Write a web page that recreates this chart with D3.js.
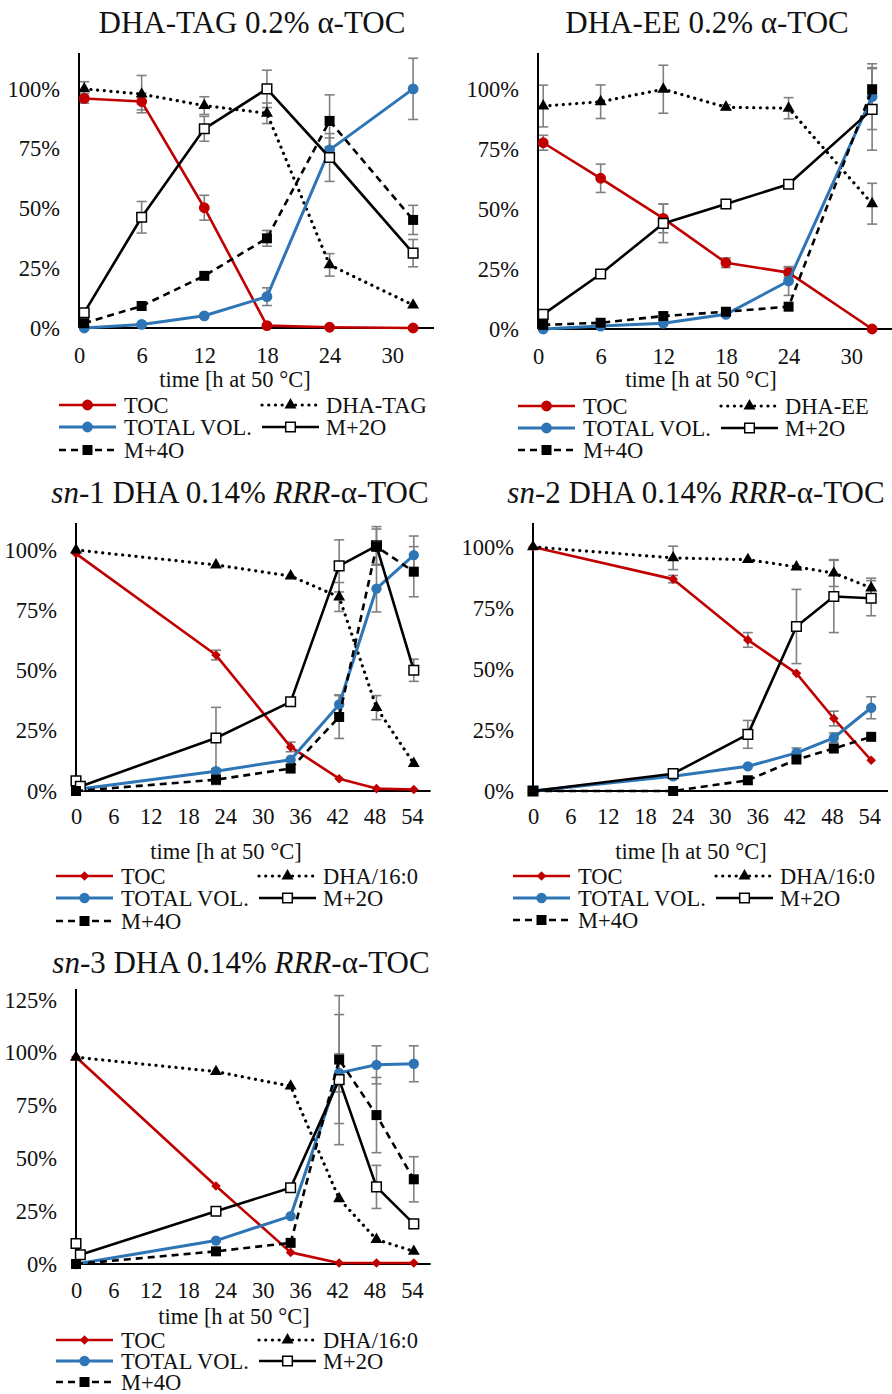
<!DOCTYPE html>
<html>
<head>
<meta charset="utf-8">
<script src="https://cdn.jsdelivr.net/npm/d3@7/dist/d3.min.js"></script>
<style>
  html, body { margin: 0; padding: 0; background: #fff; }
  svg { display: block; }
  text { font-family: "Liberation Serif", "Times New Roman", serif; fill: #111; }
</style>
</head>
<body>
<svg id="chart" width="892" height="1394"></svg>
<script>
// ---- data (% of max) ----
var tagTime = [0.5, 6, 12, 18, 24, 32]
  , tagToc = [96, 94.7, 50.3, 1, 0.3, 0]
  , tagTocErr = [2, 3.5, 5.2, 0, 0, 0]
  , tagDha = [100, 97.8, 93, 89.8, 26.4, 9.6]
  , tagDhaErr = [3, 7.8, 3.7, 4.3, 4.7, 0]
  , tagVol = [0, 1.5, 5.1, 13.1, 74.5, 100]
  , tagVolErr = [0, 0, 0, 3.7, 5, 12.8]
  , tagM2o = [6.4, 46.3, 83.3, 100, 71.3, 31.3]
  , tagM2oErr = [0, 6.6, 5.2, 7.8, 10, 5.7]
  , tagM4o = [2, 9.2, 21.8, 37.5, 86.6, 45.2]
  , tagM4oErr = [0, 0, 0, 3.3, 10.9, 6.1];

var eeTime = [0.5, 6, 12, 18, 24, 32]
  , eeToc = [77.6, 62.8, 46.1, 27.6, 23.5, 0]
  , eeTocErr = [3.1, 5.9, 6, 2, 2, 0]
  , eeDha = [92.9, 94.7, 99.9, 92.4, 92, 52.2]
  , eeDhaErr = [8.7, 7, 10, 1, 4.4, 8.5]
  , eeVol = [0, 1.2, 2.4, 6.1, 20, 96.8]
  , eeVolErr = [0, 0, 0, 0, 6, 13.7]
  , eeM2o = [6.1, 22.9, 44, 52.1, 60.3, 91.5]
  , eeM2oErr = [0, 0, 8, 0, 0, 17]
  , eeM4o = [1.7, 2.6, 5.4, 7.2, 9.3, 99.9]
  , eeM4oErr = [0, 0, 0, 0, 0, 9];

var snTime = [0, 22.5, 34.5, 42.3, 48.3, 54.3]
  , snM2oTime = [0, 0.7, 22.5, 34.5, 42.3, 48.3, 54.3];

var sn1Toc = [98.5, 56.4, 18.3, 5.1, 1, 0.6]
  , sn1TocErr = [0, 2, 2, 0, 0, 0]
  , sn1Dha = [100, 93.8, 89.2, 80.5, 34.6, 11.4]
  , sn1DhaErr = [0, 0, 0, 6, 5, 0]
  , sn1Vol = [0.6, 8.2, 13, 35.9, 84, 97.9]
  , sn1VolErr = [0, 0, 0, 4, 9.7, 7.9]
  , sn1M2o = [4.2, 1.9, 22, 37, 93.4, 101.7, 50.1]
  , sn1M2oErr = [0, 0, 12.7, 0, 10.8, 8, 4.6]
  , sn1M4o = [0, 4.7, 9.3, 30.7, 101.4, 91]
  , sn1M4oErr = [0, 2, 0, 8.9, 7.3, 10.4];

var sn2Toc = [100, 86.8, 61.9, 48.2, 29.7, 12.6]
  , sn2TocErr = [0, 1.5, 3, 0, 3, 0]
  , sn2Dha = [100, 95.5, 94.8, 91.8, 89.3, 83.2]
  , sn2DhaErr = [0, 4.8, 0, 0, 5.5, 4]
  , sn2Vol = [0, 6, 10.1, 15.6, 21.8, 34.1]
  , sn2VolErr = [0, 0, 0, 2, 2, 4.5]
  , sn2M2o = [0, 7.1, 23.2, 67.4, 79.7, 79]
  , sn2M2oErr = [0, 0, 5.7, 15.2, 14.8, 7.2]
  , sn2M4o = [0, 0, 4.4, 12.9, 17.4, 22.2]
  , sn2M4oErr = [0, 0, 0, 0, 0, 0];

var sn3Toc = [98, 36.9, 5.5, 0.5, 0.5, 0.5]
  , sn3TocErr = [0, 0, 0, 0, 0, 0]
  , sn3Dha = [97.9, 91.1, 84.2, 30.9, 11.6, 6]
  , sn3DhaErr = [0, 0, 0, 0, 0, 0]
  , sn3Vol = [0, 11.1, 22.7, 90.5, 94.3, 94.8]
  , sn3VolErr = [0, 0, 0, 9, 9, 8.5]
  , sn3M2o = [9.7, 4.4, 25, 36.1, 87.3, 36.5, 19]
  , sn3M2oErr = [0, 0, 0, 0, 30.8, 10.2, 0]
  , sn3M4o = [0, 6, 10, 96.8, 70.5, 40.1]
  , sn3M4oErr = [0, 0, 0, 30.3, 17.8, 10.7];

var hourTicks32 = [0, 6, 12, 18, 24, 30]
  , hourTicks54 = [0, 6, 12, 18, 24, 30, 36, 42, 48, 54]
  , pctTicks100 = [0, 25, 50, 75, 100]
  , pctTicks125 = [0, 25, 50, 75, 100, 125];

var xLabel = 'time [h at 50 °C]';
var legendNames = { toc: 'TOC', vol: 'TOTAL VOL.', m2o: 'M+2O', m4o: 'M+4O' };

// ---- styles ----
var RED = '#C00000', BLUE = '#2E75B6', ERR = '#808080', FS = '22.5px';
var styles = {
  toc: { color: RED, width: 2.6 },
  dha: { color: '#000', width: 3.2, dash: '0.1,6.6', cap: 'round' },
  vol: { color: BLUE, width: 3 },
  m2o: { color: '#000', width: 2.6 },
  m4o: { color: '#000', width: 2.6, dash: '7,5' }
};

var svg = d3.select('#chart');

var mk = function (key, tocShape) {
  // marker path + fill/stroke for a series
  if (key === 'toc') {
    if (tocShape === 'diamond') return { d: d3.symbol(d3.symbolSquare, 46)(), rot: 45, fill: RED, stroke: 'none' };
    return { d: d3.symbol(d3.symbolCircle, 92)(), fill: RED, stroke: 'none' };
  }
  if (key === 'vol') return { d: d3.symbol(d3.symbolCircle, tocShape === 'diamond' ? 84 : 92)(), fill: BLUE, stroke: 'none' };
  if (key === 'dha') return { d: d3.symbol(d3.symbolTriangle, 62)(), fill: '#000', stroke: 'none' };
  if (key === 'm2o') return { d: d3.symbol(d3.symbolSquare, 92)(), fill: '#fff', stroke: '#000' };
  return { d: d3.symbol(d3.symbolSquare, 100)(), fill: '#000', stroke: 'none' };
};

var drawPanel = function (p) {
  var g = svg.append('g');
  var x = d3.scaleLinear().domain([0, p.xMax]).range([p.left, p.right]);
  var y = d3.scaleLinear().domain([0, p.yMax]).range([p.yZero, p.yTop]);

  // title
  var title = g.append('text')
    .attr('x', p.titleX).attr('y', p.titleY)
    .attr('text-anchor', 'middle')
    .style('font-size', '31px');
  p.title.forEach(function (part) {
    title.append('tspan').text(part[0]).style('font-style', part[1] ? 'italic' : 'normal');
  });

  // axes (labels only; lines drawn by hand)
  var yAxis = d3.axisLeft(y).tickValues(p.yTicks).tickSize(0).tickPadding(19)
    .tickFormat(function (d) { return d + '%'; });
  g.append('g').attr('transform', 'translate(' + p.left + ',0)').call(yAxis)
    .call(function (a) { a.select('.domain').remove(); })
    .selectAll('text').attr('font-family', null).attr('font-size', null)
    .style('font-size', FS).attr('fill', '#111');

  var xAxis = d3.axisBottom(x).tickValues(p.xTicks).tickSize(0).tickPadding(p.xPad);
  g.append('g').attr('transform', 'translate(0,' + p.yZero + ')').call(xAxis)
    .call(function (a) { a.select('.domain').remove(); })
    .selectAll('text').attr('font-family', null).attr('font-size', null)
    .style('font-size', FS).attr('fill', '#111');

  g.append('text').attr('x', p.xLabelX).attr('y', p.xLabelY)
    .attr('text-anchor', 'middle').style('font-size', FS).text(xLabel);

  // error bars
  var eb = g.append('g').attr('stroke', ERR).attr('stroke-width', 1.6);
  p.series.forEach(function (s) {
    s.v.forEach(function (v, i) {
      var e = s.e[i];
      if (!e) return;
      var cx = x(s.t[i]), y1 = y(v - e), y2 = y(v + e);
      eb.append('line').attr('x1', cx).attr('x2', cx).attr('y1', y1).attr('y2', y2);
      eb.append('line').attr('x1', cx - 5).attr('x2', cx + 5).attr('y1', y1).attr('y2', y1);
      eb.append('line').attr('x1', cx - 5).attr('x2', cx + 5).attr('y1', y2).attr('y2', y2);
    });
  });

  // axis lines
  g.append('line').attr('x1', p.left).attr('x2', p.left).attr('y1', p.yZero).attr('y2', p.yTop)
    .attr('stroke', '#000').attr('stroke-width', 2);
  g.append('line').attr('x1', p.left).attr('x2', p.right).attr('y1', p.yZero).attr('y2', p.yZero)
    .attr('stroke', '#000').attr('stroke-width', 2);

  var line = d3.line().x(function (d) { return x(d[0]); }).y(function (d) { return y(d[1]); });

  p.series.forEach(function (s) {
    var st = styles[s.key];
    var pts = s.v.map(function (v, i) { return [s.t[i], v]; });
    g.append('path').datum(pts).attr('d', line)
      .attr('fill', 'none').attr('stroke', st.color).attr('stroke-width', st.width)
      .attr('stroke-dasharray', st.dash || null)
      .attr('stroke-linecap', st.cap || 'butt').attr('stroke-linejoin', 'round');
    var m = mk(s.key, p.tocShape);
    g.selectAll(null).data(pts).enter().append('path')
      .attr('d', m.d)
      .attr('transform', function (d) {
        return 'translate(' + x(d[0]) + ',' + y(d[1]) + ')' + (m.rot ? ' rotate(' + m.rot + ')' : '');
      })
      .attr('fill', m.fill).attr('stroke', m.stroke).attr('stroke-width', 1.5);
  });

  // legend
  var cols = [
    { x1: p.left - 20, x2: p.left + 37, tx: p.left + 45 },
    { x1: p.left + 183, x2: p.left + 240, tx: p.left + 247 }
  ];
  var items = [
    { key: 'toc', row: 0, col: 0, name: legendNames.toc },
    { key: 'dha', row: 0, col: 1, name: p.dhaLabel },
    { key: 'vol', row: 1, col: 0, name: legendNames.vol },
    { key: 'm2o', row: 1, col: 1, name: legendNames.m2o },
    { key: 'm4o', row: 2, col: 0, name: legendNames.m4o }
  ];
  items.forEach(function (it) {
    var c = cols[it.col], ly = p.legendY[it.row], st = styles[it.key], m = mk(it.key, p.tocShape);
    g.append('line').attr('x1', c.x1).attr('x2', c.x2).attr('y1', ly).attr('y2', ly)
      .attr('stroke', st.color).attr('stroke-width', st.width)
      .attr('stroke-dasharray', st.dash || null).attr('stroke-linecap', st.cap || 'butt');
    g.append('path').attr('d', m.d)
      .attr('transform', 'translate(' + ((c.x1 + c.x2) / 2) + ',' + ly + ')' + (m.rot ? ' rotate(' + m.rot + ')' : ''))
      .attr('fill', m.fill).attr('stroke', m.stroke).attr('stroke-width', 1.5);
    g.append('text').attr('x', c.tx).attr('y', ly + 7.5).style('font-size', FS).text(it.name);
  });
};

var sers = function (t, t2, a) {
  return [
    { key: 'toc', t: t, v: a[0], e: a[1] },
    { key: 'dha', t: t, v: a[2], e: a[3] },
    { key: 'vol', t: t, v: a[4], e: a[5] },
    { key: 'm2o', t: t2, v: a[6], e: a[7] },
    { key: 'm4o', t: t, v: a[8], e: a[9] }
  ];
};

var panels = [
  { title: [['DHA-TAG 0.2% α-TOC', false]], titleX: 252, titleY: 33,
    left: 79, right: 434, xMax: 34, yZero: 328, yTop: 53, yMax: 115, xPad: 19,
    xTicks: hourTicks32, yTicks: pctTicks100, xLabelX: 235, xLabelY: 387,
    legendY: [405, 427, 450], dhaLabel: 'DHA-TAG', tocShape: 'circle',
    series: sers(tagTime, tagTime, [tagToc, tagTocErr, tagDha, tagDhaErr, tagVol, tagVolErr, tagM2o, tagM2oErr, tagM4o, tagM4oErr]) },
  { title: [['DHA-EE 0.2% α-TOC', false]], titleX: 707, titleY: 33,
    left: 538, right: 893, xMax: 34, yZero: 329, yTop: 53, yMax: 115, xPad: 19,
    xTicks: hourTicks32, yTicks: pctTicks100, xLabelX: 701, xLabelY: 387,
    legendY: [406, 428, 450], dhaLabel: 'DHA-EE', tocShape: 'circle',
    series: sers(eeTime, eeTime, [eeToc, eeTocErr, eeDha, eeDhaErr, eeVol, eeVolErr, eeM2o, eeM2oErr, eeM4o, eeM4oErr]) },
  { title: [['sn', true], ['-1 DHA 0.14% ', false], ['RRR', true], ['-α-TOC', false]], titleX: 240, titleY: 503,
    left: 76, right: 430.6, xMax: 57, yZero: 791, yTop: 523, yMax: 111.2, xPad: 17,
    xTicks: hourTicks54, yTicks: pctTicks100, xLabelX: 226, xLabelY: 859,
    legendY: [876, 898, 921], dhaLabel: 'DHA/16:0', tocShape: 'diamond',
    series: sers(snTime, snM2oTime, [sn1Toc, sn1TocErr, sn1Dha, sn1DhaErr, sn1Vol, sn1VolErr, sn1M2o, sn1M2oErr, sn1M4o, sn1M4oErr]) },
  { title: [['sn', true], ['-2 DHA 0.14% ', false], ['RRR', true], ['-α-TOC', false]], titleX: 696, titleY: 503,
    left: 533, right: 888, xMax: 57, yZero: 791, yTop: 523, yMax: 109.8, xPad: 17,
    xTicks: hourTicks54, yTicks: pctTicks100, xLabelX: 691, xLabelY: 859,
    legendY: [876, 898, 920], dhaLabel: 'DHA/16:0', tocShape: 'diamond',
    series: sers(snTime, snTime, [sn2Toc, sn2TocErr, sn2Dha, sn2DhaErr, sn2Vol, sn2VolErr, sn2M2o, sn2M2oErr, sn2M4o, sn2M4oErr]) },
  { title: [['sn', true], ['-3 DHA 0.14% ', false], ['RRR', true], ['-α-TOC', false]], titleX: 241, titleY: 973,
    left: 76, right: 430.6, xMax: 57, yZero: 1264, yTop: 989, yMax: 130.2, xPad: 18,
    xTicks: hourTicks54, yTicks: pctTicks125, xLabelX: 234, xLabelY: 1324,
    legendY: [1340, 1361, 1382], dhaLabel: 'DHA/16:0', tocShape: 'diamond',
    series: sers(snTime, snM2oTime, [sn3Toc, sn3TocErr, sn3Dha, sn3DhaErr, sn3Vol, sn3VolErr, sn3M2o, sn3M2oErr, sn3M4o, sn3M4oErr]) }
];

panels.forEach(drawPanel);
</script>
</body>
</html>
